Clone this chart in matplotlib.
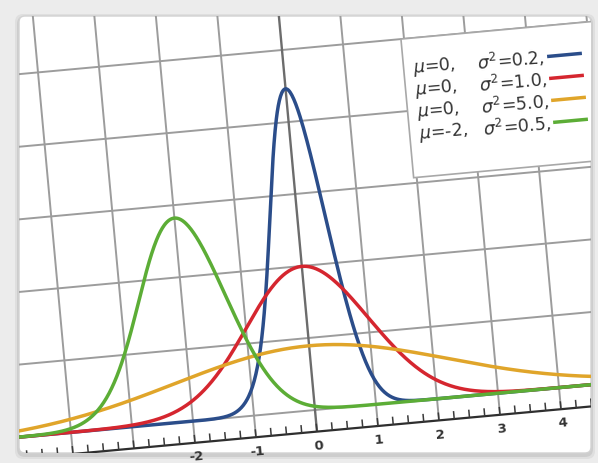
"""Normal density curves, redrawn the way they look in a skewed photo of the chart."""

import numpy as np
import matplotlib

matplotlib.use("Agg")
import matplotlib.pyplot as plt
from matplotlib.patches import FancyBboxPatch, Polygon
from matplotlib.transforms import Affine2D

# curve parameters, as printed in the legend
means = [0, 0, 0, -2]
variances = [0.2, 1.0, 5.0, 0.5]
curve_colors = ["#2b4d8a", "#d5262f", "#e0a52a", "#5cad36"]

x_grid_values = [-5, -4, -3, -2, -1, 0, 1, 2, 3, 4, 5]
x_tick_values = [-2, -1, 0, 1, 2, 3, 4]
x_tick_labels = ["-2", "-1", "0", "1", "2", "3", "4"]
y_grid_values = [0.0, 0.2, 0.4, 0.6, 0.8, 1.0]
x_range = (-5.0, 5.0)

AXIS_Y = -0.06      # the tick axis sits a little below the zero line
TOP_Y = 1.25

fig = plt.figure(figsize=(5.98, 4.63), dpi=100, facecolor="#ececec")
ax = fig.add_axes([0, 0, 1, 1])
ax.set_xlim(0, 598)
ax.set_ylim(463, 0)
ax.axis("off")

# soft shadow + white card of the photo
for grow, alpha in [(4, 0.05), (2, 0.08)]:
    ax.add_patch(FancyBboxPatch(
        (19 - grow, 16 - grow + 2), 572 + 2 * grow, 437 + 2 * grow,
        boxstyle="round,pad=0,rounding_size=8",
        facecolor="black", edgecolor="none", alpha=alpha, zorder=0))
card = FancyBboxPatch((19, 16), 572, 437, boxstyle="round,pad=0,rounding_size=6",
                      facecolor="white", edgecolor="#d2d2d2", lw=1.0, zorder=1)
ax.add_patch(card)

# data -> pixel mapping of the tilted photo
photo = Affine2D.from_values(61, -5.6, -33, -360, 315, 410) + ax.transData


def draw(xs, ys, **kwargs):
    line, = ax.plot(xs, ys, transform=photo, solid_capstyle="butt", **kwargs)
    line.set_clip_path(card)
    return line


# grid
for gy in y_grid_values:
    draw(x_range, [gy, gy], color="#9c9c9c", lw=1.4, zorder=2)
for gx in x_grid_values:
    col, width = ("#6c6c6c", 1.7) if gx == 0 else ("#9c9c9c", 1.4)
    draw([gx, gx], [AXIS_Y, TOP_Y], color=col, lw=width, zorder=2)

# tick axis with minor ticks
draw(x_range, [AXIS_Y, AXIS_Y], color="#2e2e2e", lw=1.6, zorder=3)
for mx in np.arange(x_range[0], x_range[1] + 0.01, 0.25):
    draw([mx, mx], [AXIS_Y, AXIS_Y + 0.022], color="#3a3a3a", lw=1.1, zorder=3)
for tx, tl in zip(x_tick_values, x_tick_labels):
    ax.text(tx, -0.1, tl, transform=photo, ha="center", va="center",
            rotation=5, fontsize=9.5, fontweight="bold", color="#333333", zorder=4)

# curves
xs = np.linspace(x_range[0], x_range[1], 800)
for mu, var, col in zip(means, variances, curve_colors):
    ys = np.exp(-(xs - mu) ** 2 / (2 * var)) / np.sqrt(2 * np.pi * var)
    draw(xs, ys, color=col, lw=2.5, zorder=5)

# legend box
box = Polygon([(1.95, 0.615), (5.4, 0.615), (5.4, 1.0), (1.95, 1.0)], closed=True,
              transform=photo, facecolor="white", edgecolor="#a8a8a8", lw=1.2, zorder=6)
box.set_clip_path(card)
ax.add_patch(box)

for i, (mu, var, col) in enumerate(zip(means, variances, curve_colors)):
    row_y = 0.915 - 0.061 * i
    ax.text(2.1, row_y, rf"$\mu$={mu:g},", transform=photo, ha="left", va="center",
            rotation=5, rotation_mode="anchor", fontsize=12.5, color="#333333", zorder=7)
    ax.text(3.15, row_y, rf"$\sigma^2$={var:.1f},", transform=photo, ha="left",
            va="center", rotation=5, rotation_mode="anchor", fontsize=12.5,
            color="#333333", zorder=7)
    draw([4.3, 4.87], [row_y, row_y], color=col, lw=2.5, zorder=7)

fig.savefig("out.png", dpi=100, facecolor=fig.get_facecolor())
